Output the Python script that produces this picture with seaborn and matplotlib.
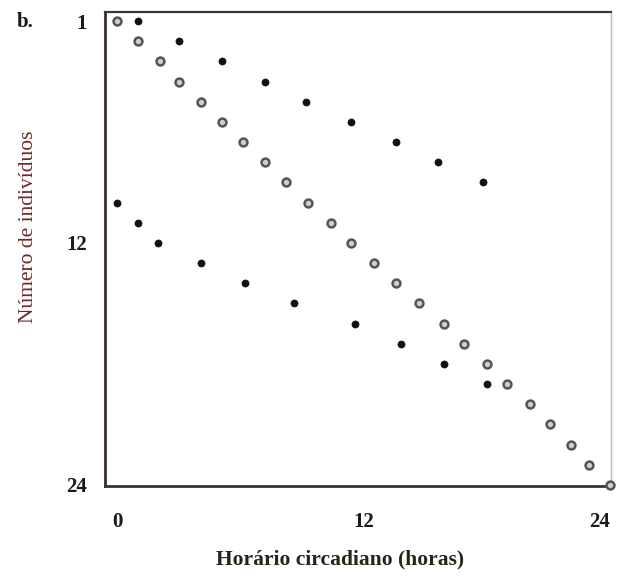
import matplotlib
matplotlib.use("Agg")
import matplotlib.pyplot as plt
import seaborn as sns
import pandas as pd

# Data (row = individual number, hour = circadian time)
rows_open = [1, 2, 3, 4, 5, 6, 7, 8, 9, 10, 11, 12, 13, 14, 15, 16, 17, 18, 19, 20, 21, 22, 23, 24]
hours_open = [0.0, 1.0, 2.1, 3.0, 4.1, 5.1, 6.1, 7.2, 8.2, 9.3, 10.4, 11.4,
              12.5, 13.6, 14.7, 15.9, 16.9, 18.0, 19.0, 20.1, 21.1, 22.1, 23.0, 24.0]
rows_upper = [1, 2, 3, 4, 5, 6, 7, 8, 9]
hours_upper = [1.0, 3.0, 5.1, 7.2, 9.2, 11.4, 13.6, 15.6, 17.8]
rows_lower = [10, 11, 12, 13, 14, 15, 16, 17, 18, 19]
hours_lower = [0.0, 1.0, 2.0, 4.1, 6.2, 8.6, 11.6, 13.8, 15.9, 18.0]

x_ticks = [0, 12, 24]
y_ticks = [1, 12, 24]
x_label = "Horário circadiano (horas)"
y_label = "Número de indivíduos"
panel = "b."

df_open = pd.DataFrame({"hora": hours_open, "ind": rows_open})
df_black = pd.DataFrame({"hora": hours_upper + hours_lower, "ind": rows_upper + rows_lower})

sns.set_theme(style="white")
plt.rcParams["font.family"] = ["Liberation Serif", "DejaVu Serif"]

fig = plt.figure(figsize=(6.18, 5.79), dpi=100)
ax = fig.add_axes([105 / 618, 1 - 486 / 579, 506 / 618, 474 / 579])

sns.scatterplot(data=df_open, x="hora", y="ind", ax=ax, s=32, marker="o",
                color="#cfd0c8", edgecolor="#4f574f", linewidth=1.8, clip_on=False, zorder=3)
sns.scatterplot(data=df_black, x="hora", y="ind", ax=ax, s=26, marker="o",
                color="#111111", edgecolor="#111111", linewidth=0.5, clip_on=False, zorder=3)

ax.set_xlim(-0.6, 24.05)
ax.set_ylim(24.05, 0.55)

ax.set_xticks(x_ticks)
ax.set_xticklabels([str(t) for t in x_ticks], fontsize=15, fontweight="bold", color="#1a1a1a")
ax.set_yticks(y_ticks)
ax.set_yticklabels([str(t) for t in y_ticks], fontsize=15, fontweight="bold", color="#1a1a1a")
ax.tick_params(axis="x", length=0, pad=19)
ax.tick_params(axis="y", length=0, pad=13)
# keep the last x tick label inside the figure
ax.get_xticklabels()[-1].set_horizontalalignment("right")
ax.get_xticklabels()[-1].set_x(24.35)

ax.set_xlabel(x_label, fontsize=15.5, fontweight="bold", color="#2a2418", va="center")
ax.xaxis.set_label_coords(0.464, -0.156)
ax.set_ylabel(y_label, fontsize=15.5, color="#702828", va="center", ha="center")
ax.yaxis.set_label_coords(-0.152, 0.546)

for side, col, lw in [("left", "#3d2b2b", 2.0), ("bottom", "#2b3a2b", 2.0),
                      ("top", "#3a3a3a", 1.6), ("right", "#b5bdb5", 1.0)]:
    ax.spines[side].set_visible(True)
    ax.spines[side].set_color(col)
    ax.spines[side].set_linewidth(lw)

fig.text(17 / 618, 1 - 22 / 579, panel, fontsize=15, fontweight="bold",
         color="#1a1a1a", ha="left", va="center")

fig.savefig("out.png", dpi=100)
